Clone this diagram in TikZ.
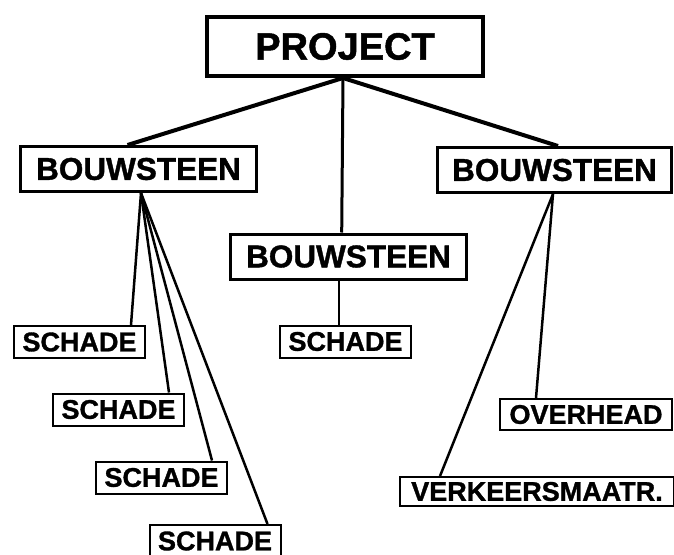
\documentclass[tikz,border=0pt]{standalone}
\usepackage{fontspec}
\setmainfont{Liberation Sans}[FakeBold=1.2]
\begin{document}
\begin{tikzpicture}[x=1pt,y=-1pt,
  box/.style={draw=black,fill=white,inner sep=0pt},
  big/.style={box,line width=4pt,minimum width=276pt,minimum height=59pt,font=\fontsize{38}{38}\selectfont\bfseries},
  mid/.style={box,line width=3pt,minimum width=236pt,minimum height=45pt,font=\fontsize{31.5}{31.5}\selectfont\bfseries},
  small/.style={box,line width=2pt,minimum width=131pt,minimum height=32pt,font=\fontsize{27}{27}\selectfont\bfseries},
  thick link/.style={line width=4pt},
  link/.style={line width=2.5pt}]
\useasboundingbox (0,0) rectangle (674,554);
\clip (0,0) rectangle (674,554);
\coordinate (pb) at (343,78);
\node[big] (proj) at (345,46.5) {PROJECT};
\node[mid] (bl) at (138.5,169) {BOUWSTEEN};
\node[mid] (bm) at (348.5,256.5) {BOUWSTEEN};
\node[mid,minimum width=234pt] (br) at (554.5,170) {BOUWSTEEN};
\node[small] (s1) at (79.5,342) {SCHADE};
\node[small] (s2) at (118.5,409.5) {SCHADE};
\node[small] (s3) at (161.5,477.5) {SCHADE};
\node[small] (s4) at (215,541) {SCHADE};
\node[small] (sm) at (345.5,341.5) {SCHADE};
\node[small,minimum width=172pt,minimum height=31pt] (ov) at (586,414.5) {OVERHEAD};
\node[small,minimum width=274pt,minimum height=29pt] (vk) at (537,491.5) {VERKEERSMAATR.};
% links
\draw[thick link] (pb) -- ([xshift=-11pt]bl.north);
\draw[thick link] (pb) -- ([xshift=3.5pt]br.north);
\draw[line width=3pt] (pb) -- ([xshift=-6.8pt]bm.north);
\draw[line width=2.5pt] ([xshift=-9.5pt]bm.south) -- ([xshift=-6.5pt]sm.north);
\coordinate (blb) at ([xshift=2.5pt]bl.south);
\draw[link] (blb) -- ([xshift=-15pt]s1.north east);
\draw[link] (blb) -- ([xshift=-16pt]s2.north east);
\draw[link] (blb) -- ([xshift=-16pt]s3.north east);
\draw[link] (blb) -- ([xshift=-14pt]s4.north east);
\coordinate (brb) at ([xshift=-1.5pt]br.south);
\draw[link] (brb) -- ([xshift=-50pt]ov.north);
\draw[link] (brb) -- ([xshift=-97pt]vk.north);
\end{tikzpicture}
\end{document}
